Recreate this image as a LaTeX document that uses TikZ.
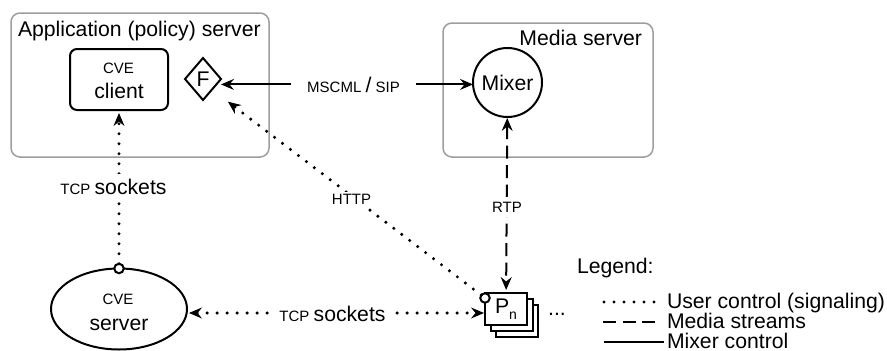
\documentclass[tikz,border=0pt]{standalone}
\usepackage{fontspec}
\setmainfont{Liberation Sans}
\usetikzlibrary{arrows.meta,shapes.geometric}
\newcommand\fbig{\fontsize{21.2}{24}\selectfont}
\newcommand\fsmall{\fontsize{15}{18}\selectfont}
\begin{document}
\begin{tikzpicture}[x=1pt,y=-1pt,
  >={Stealth[length=13pt,width=11pt,inset=4.5pt,line width=1pt]},
  every node/.style={inner sep=0pt, outer sep=0pt},
  group/.style={draw=black!38, line width=1.5pt, rounded corners=9pt},
  blk/.style={draw=black, line width=2pt},
  tipa/.style={->},
  tipb/.style={<->},
  userctl/.style={line width=3.4pt, line cap=round, dash pattern=on 0pt off 10pt},
  media/.style={line width=2pt, dash pattern=on 13pt off 6.5pt},
  mixctl/.style={line width=1.9pt},
  lbl/.style={fill=white},
  port/.style={blk, circle, fill=white, minimum size=9.5pt},
  pnbox/.style={blk, fill=white, minimum width=42pt, minimum height=32pt}
]
\useasboundingbox (0,0) rectangle (887,351);

% group boxes
\draw[group] (11,13) rectangle (269,157);
\draw[group] (443,23) rectangle (653,157);
\node[anchor=base west] (apptitle) at (18,36.5) {\fbig Application (policy) server};
\node[anchor=base east] (medtitle) at (642,45) {\fbig Media server};

% nodes
\node[blk, rounded corners=7pt, minimum width=98pt, minimum height=61pt] (client) at (119,79.5) {};
\node[anchor=base] (clientcve) at (118.5,73.5) {\fsmall CVE};
\node[anchor=base] (clienttxt) at (119,98.5) {\fbig client};
\node[blk, diamond, minimum width=36pt, minimum height=42pt] (F) at (203,79) {\fbig F};
\node[blk, circle, minimum size=69pt] (mixer) at (507.5,82.5) {\fbig Mixer};
\node[blk, ellipse, minimum width=136pt, minimum height=81pt] (srv) at (119,309) {};
\node[anchor=base] (srvcve) at (118,304) {\fsmall CVE};
\node[anchor=base] (srvtxt) at (119,330) {\fbig server};
\node[port] (srvport) at (srv.north) {};

\node[pnbox] (pnback2) at (517,321) {};
\node[pnbox] (pnback1) at (511.5,315) {};
\node[pnbox] (pn) at (506,309) {\fbig P\raisebox{-6pt}{\fontsize{14}{16}\selectfont n}};
\node[port] (pnport) at (485,298) {};
\node[anchor=base] (pndots) at (557,315.5) {\fbig ...};

% mixer control
\node[anchor=base, inner xsep=16pt, inner ysep=3pt] (msc) at (353.5,92) {\fsmall MSCML \fbig /\fsmall{} SIP};
\draw[mixctl, tipa] (msc) -- (F.east |- msc);
\draw[mixctl, tipa] (msc) -- (mixer.west |- msc);

% user control (signaling)
\draw[userctl, tipa, shorten >=3pt] (srvport) -- (client);
\draw[userctl, tipa, shorten >=20pt] (pnport) -- (F.south east);
\draw[userctl, tipb, shorten <=2pt, shorten >=1pt] ([yshift=-4pt]srv.east) -- ([yshift=-4pt]pn.west);

% media
\draw[media, tipb, shorten <=1pt, shorten >=3pt] (mixer) -- (pn);

% labels
\node[lbl, anchor=base, inner xsep=3pt, inner ysep=5pt] (tcpv) at (113.5,194) {\fsmall TCP \fbig sockets};
\node[lbl, anchor=base, inner sep=2pt] (http) at (351.5,204) {\fsmall HTTP};
\node[lbl, anchor=base, inner xsep=2pt, inner ysep=5pt] (rtp) at (507,212) {\fsmall RTP};
\node[lbl, anchor=base, inner xsep=8pt, inner ysep=4pt] (tcph) at (332.5,321) {\fsmall TCP \fbig sockets};

% legend
\node[anchor=base west] (legend) at (577,273) {\fbig Legend:};
\coordinate (l1a) at (604,302); \coordinate (l1b) at (664,302);
\coordinate (l2a) at (603,322); \coordinate (l2b) at (656,322);
\coordinate (l3a) at (604,342); \coordinate (l3b) at (664,342);
\draw[userctl] (l1a) -- (l1b);
\draw[media] (l2a) -- (l2b);
\draw[mixctl] (l3a) -- (l3b);
\node[anchor=base west] (leg1) at (667,308) {\fbig User control (signaling)};
\node[anchor=base west] (leg2) at (667,328) {\fbig Media streams};
\node[anchor=base west] (leg3) at (667,348) {\fbig Mixer control};
\end{tikzpicture}
\end{document}
